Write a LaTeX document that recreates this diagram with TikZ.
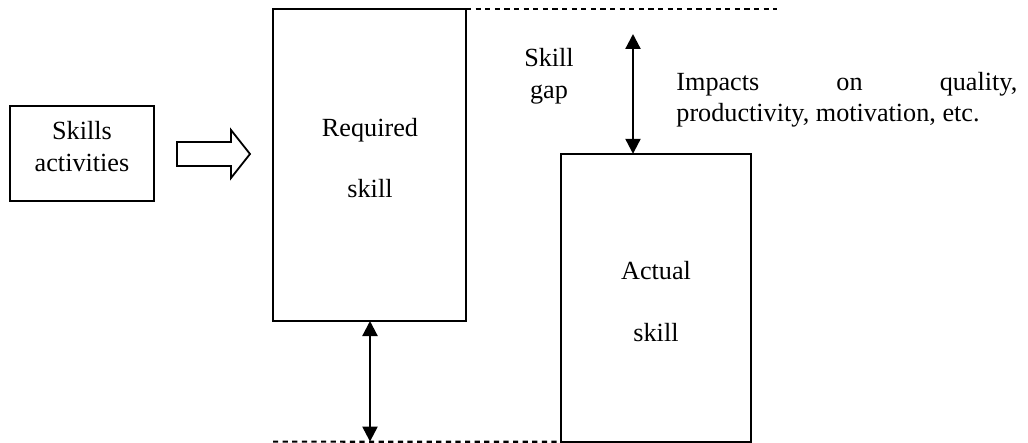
\documentclass[tikz,border=0pt]{standalone}
\usepackage{fontspec}
\setmainfont{Liberation Serif}
\usetikzlibrary{arrows.meta}
\begin{document}
\begin{tikzpicture}[x=0.5pt,y=-0.5pt,
  box/.style={draw,line width=1.1pt,inner sep=0pt,outer sep=0pt,fill=none},
  txt/.style={inner sep=0pt,anchor=base,font=\fontsize{13.1pt}{15.5pt}\selectfont},
  dline/.style={line width=1.1pt,dash pattern=on 2.6pt off 2.2pt},
  dbl/.style={line width=1.1pt,{Triangle[width=7.5pt,length=7.5pt]}-{Triangle[width=7.5pt,length=7.5pt]}},
  blockarrow/.style={draw,line width=0.9pt,fill=white,line join=miter}]
\useasboundingbox (0,0) rectangle (1028,443);
% boxes
\node[box,minimum width=72pt,minimum height=47.5pt] (sa) at (82,153.5) {};
\node[box,minimum width=96.5pt,minimum height=156pt] (req) at (369.5,165) {};
\node[box,minimum width=95pt,minimum height=144pt] (act) at (656,297.8) {};
% texts
\node[txt] (sa1) at (82,140) {Skills};
\node[txt] (sa2) at (82,172) {activities};
\node[txt] (req1) at (370,137) {Required};
\node[txt] (req2) at (370,198) {skill};
\node[txt] (act1) at (656,280) {Actual};
\node[txt] (act2) at (656,342) {skill};
\node[txt] (gap1) at (549,67) {Skill};
\node[txt] (gap2) at (549,99) {gap};
\node[txt,anchor=base west] (imp1) at (676,91) {\makebox[170.5pt][s]{Impacts on quality,}};
\node[txt,anchor=base west] (imp2) at (676,122) {productivity, motivation, etc.};
% block arrow
\draw[blockarrow] (177,142) -- (231,142) -- (231,130) -- (250,154) -- (231,178) -- (231,166) -- (177,166) -- cycle;
% dashed lines
\coordinate (topend) at (777,9);
\coordinate (botstart) at (273,441.6);
\draw[dline] (req.north east) -- (topend);
\draw[dline] (botstart) -- (act.south west);
% double arrows
\coordinate (botarrow) at (370,441.6);
\coordinate (gaptop) at (633,34);
\draw[dbl] (req.south -| botarrow) -- (botarrow);
\draw[dbl] (gaptop) -- (gaptop |- act.north);
\end{tikzpicture}
\end{document}
